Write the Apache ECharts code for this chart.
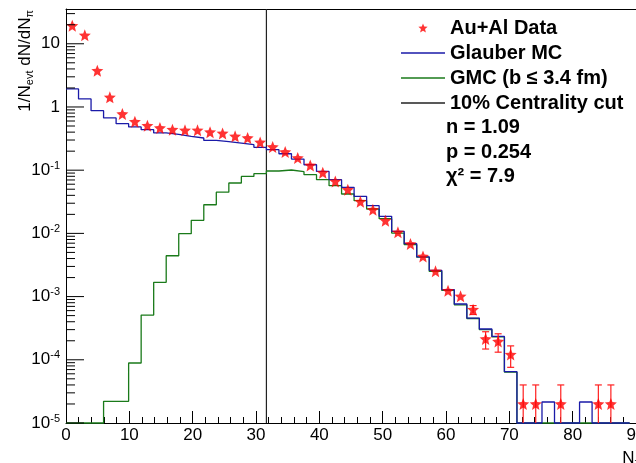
<!DOCTYPE html>
<html><head><meta charset="utf-8">
<script src="https://cdn.jsdelivr.net/npm/echarts@6/dist/echarts.min.js"></script>
<style>html,body{margin:0;padding:0;background:#fff}#c{width:636px;height:463px}</style>
</head><body><div id="c"></div>
<script>
// Histogram bin edges (45 bins)
const binEdges = [0, 1.978, 3.956, 5.933, 7.911, 9.889, 11.867, 13.844, 15.822, 17.800,
  19.778, 21.756, 23.733, 25.711, 27.689, 29.667, 31.644, 33.622, 35.600, 37.578,
  39.556, 41.533, 43.511, 45.489, 47.467, 49.444, 51.422, 53.400, 55.378, 57.356,
  59.333, 61.311, 63.289, 65.267, 67.244, 69.222, 71.200, 73.178, 75.156, 77.133,
  79.111, 81.089, 83.067, 85.044, 87.022, 89.000];

// Au+Al data (per bin, null = empty)
const dataY = [19.3, 13.6, 3.75, 1.42, 0.775, 0.585, 0.506, 0.465, 0.438, 0.427,
  0.427, 0.40, 0.382, 0.343, 0.323, 0.275, 0.233, 0.194, 0.156, 0.119,
  0.0913, 0.0665, 0.0491, 0.0318, 0.0237, 0.0159, 0.0104, 0.00679, 0.00432, 0.00251,
  0.00124, 0.00101, 0.000621, 0.000213, 0.000195, 0.000121, 2.0e-5, 2.0e-5, null, 2.0e-5,
  null, null, 2.0e-5, 2.0e-5, null];
const dataErr = [0.5, 0.4, 0.1, 0.04, 0.02, 0.015, 0.013, 0.012, 0.011, 0.011,
  0.011, 0.010, 0.010, 0.009, 0.009, 0.008, 0.007, 0.006, 0.005, 0.004,
  0.0035, 0.003, 0.0025, 0.002, 0.0017, 0.0013, 0.001, 0.0004, 0.0003, 0.0002,
  0.00012, 0.00011, 0.0001, 6.5e-5, 6.3e-5, 4.5e-5, 2.0e-5, 2.0e-5, null, 2.0e-5,
  null, null, 2.0e-5, 2.0e-5, null];

// Glauber MC histogram
const glauberMC = [1.93, 1.34, 0.873, 0.67, 0.545, 0.483, 0.437, 0.388, 0.368, 0.343,
  0.323, 0.296, 0.282, 0.269, 0.253, 0.230, 0.211, 0.182, 0.150, 0.122,
  0.0957, 0.0708, 0.0535, 0.0385, 0.0274, 0.0186, 0.0108, 0.00687, 0.00424, 0.0026,
  0.00129, 0.000764, 0.000458, 0.000307, 0.000234, 6.48e-5, 0, 0, 2.15e-5, 0,
  0, 2.15e-5, 0, 0, 0];

// GMC (b <= 3.4 fm) histogram
const gmcCentral = [0, 0, 0, 2.2e-5, 2.2e-5, 8.9e-5, 5.1e-4, 0.00168, 0.00443, 0.00989,
  0.0161, 0.0284, 0.0449, 0.0627, 0.0798, 0.0881, 0.0970, 0.1007, 0.0946, 0.0849,
  0.0708, 0.0569, 0.042, 0.0329, 0.0243, 0.0171, 0.0101, 0.00663, 0.0042, 0.0025,
  0.00125, 0.00074, 0.00045, 0.0003, 0.00023, 6.4e-5, 0, 0, 0, 0,
  0, 0, 0, 0, 0];

const centralityCut = 31.644;
const yMajorTicks = [1e-5, 1e-4, 1e-3, 1e-2, 1e-1, 1, 10];
const yMinorMultipliers = [2, 3, 4, 5, 6, 7, 8, 9];
const fitText = ['n = 1.09', 'p = 0.254', 'χ² = 7.9'];
const legendNames = ['Au+Al Data', 'Glauber MC', 'GMC (b ≤ 3.4 fm)', '10% Centrality cut'];

const yMin = 1e-5, yMax = 35.5;
const FONT = 'Liberation Sans, Arial, Helvetica, sans-serif';

// y-axis tick list: [value, tick length]
const yTickList = [];
yMajorTicks.forEach(p => {
  yTickList.push([p, 18]);
  yMinorMultipliers.forEach(m => { if (m * p <= yMax) yTickList.push([m * p, 9]); });
});

function stepData(vals) {
  const out = [];
  for (let k = 0; k < vals.length; k++) out.push([binEdges[k], vals[k] > 0 ? vals[k] : yMin]);
  const last = vals[vals.length - 1];
  out.push([binEdges[vals.length], last > 0 ? last : yMin]);
  return out;
}
const centers = binEdges.slice(0, -1).map((e, i) => (e + binEdges[i + 1]) / 2);
const pts = [], errs = [];
dataY.forEach((v, i) => { if (v != null) { pts.push([centers[i], v]); errs.push([centers[i], v, dataErr[i]]); } });

const star = 'path://M50,0 L63,33 L100,36 L72,60 L81,97 L50,77 L19,97 L28,60 L0,36 L37,33 Z';
const lineIcon = 'path://M0,0H44V1.3H0Z';

const chart = echarts.init(document.getElementById('c'));
chart.setOption({
  animation: false,
  backgroundColor: '#fff',
  grid: { left: 66, right: 0, top: 9, bottom: 40, outerBoundsMode: 'none', containLabel: false },
  legend: {
    data: [
      { name: legendNames[0] },
      { name: legendNames[1], icon: lineIcon },
      { name: legendNames[2], icon: lineIcon },
      { name: legendNames[3], icon: lineIcon }
    ],
    orient: 'vertical', left: 396, top: 13,
    itemWidth: 44, itemHeight: 9, itemGap: 5, selectedMode: false,
    textStyle: { fontFamily: FONT, fontWeight: 'bold', fontSize: 20, color: '#000' }
  },
  graphic: fitText.map((t, i) => ({
    type: 'text', x: 446, y: 127.5 + i * 24.5,
    style: { text: t, fontFamily: FONT, fontWeight: 'bold', fontSize: 20, fill: '#000', verticalAlign: 'middle' }
  })),
  xAxis: [{
    type: 'value', min: 0, max: 90, interval: 10,
    axisLine: { onZero: false, lineStyle: { color: '#000', width: 1 } },
    axisTick: { inside: true, length: 12, lineStyle: { color: '#000' } },
    minorTick: { show: true, splitNumber: 5, length: 6, lineStyle: { color: '#000' } },
    splitLine: { show: false },
    axisLabel: { margin: 4, color: '#000', fontFamily: FONT, fontSize: 17 },
    name: 'N{s|π}', nameLocation: 'end', nameGap: 6,
    nameTextStyle: { align: 'right', verticalAlign: 'top', padding: [26, 0, 0, 0], color: '#000', fontFamily: FONT, fontSize: 17,
      rich: { s: { fontSize: 11, fontFamily: FONT, padding: [8, 0, 0, 0] } } }
  }, {
    type: 'value', min: 0, max: 90, position: 'top',
    axisLine: { show: true, onZero: false, lineStyle: { color: '#000', width: 1 } },
    axisTick: { show: false }, axisLabel: { show: false }, splitLine: { show: false }
  }],
  yAxis: [{
    type: 'log', min: yMin, max: yMax, logBase: 10,
    axisLine: { show: true, onZero: false, lineStyle: { color: '#000', width: 1 } },
    axisTick: { show: false },
    splitLine: { show: false },
    axisLabel: {
      customValues: yMajorTicks, margin: 6, color: '#000', fontFamily: FONT, fontSize: 17,
      formatter: v => { const e = Math.round(Math.log10(v)); if (e === 0) return '1'; if (e === 1) return '10'; return '10{sup|' + e + '}'; },
      rich: { sup: { fontSize: 11, fontFamily: FONT, color: '#000', padding: [0, 0, 9, 0] } }
    },
    name: '1/N{s|evt} dN/dN{s|π}', nameLocation: 'end', nameRotate: 90, nameGap: -1,
    nameTextStyle: { align: 'right', verticalAlign: 'bottom', padding: [0, 0, 31, 0], color: '#000', fontFamily: FONT, fontSize: 17,
      rich: { s: { fontSize: 11, fontFamily: FONT, padding: [8, 0, 0, 0] } } }
  }],
  series: [
    { name: 'yTicks', type: 'custom', z: 10,
      data: yTickList.map(t => [5, t[0], t[1]]), encode: { x: 0, y: 1 },
      renderItem: (params, api) => {
        const v = api.value(1);
        const p5 = api.coord([5, v]);
        const p10 = api.coord([10, v]);
        const x0 = 2 * p5[0] - p10[0];   // position of x = 0 (axis start)
        const len = api.value(2);
        return { type: 'group', children: [
          { type: 'line', shape: { x1: x0, y1: p5[1], x2: x0 + len, y2: p5[1] }, style: { stroke: '#000', lineWidth: 1 } }
        ] };
      } },
    { name: 'Glauber MC', type: 'line', step: 'end', data: stepData(glauberMC), symbol: 'none', clip: false,
      lineStyle: { color: '#1a1aa8', width: 1.3 }, itemStyle: { color: '#1a1aa8' }, z: 3 },
    { name: 'GMC (b ≤ 3.4 fm)', type: 'line', step: 'end', data: stepData(gmcCentral), symbol: 'none', clip: false,
      lineStyle: { color: '#1a7a1a', width: 1.3 }, itemStyle: { color: '#1a7a1a' }, z: 2 },
    { name: '10% Centrality cut', type: 'line', data: [[centralityCut, yMin], [centralityCut, yMax]], symbol: 'none',
      lineStyle: { color: '#222', width: 1.2 }, itemStyle: { color: '#222' }, z: 1 },
    { name: 'errors', type: 'custom', silent: true, z: 4, data: errs, encode: { x: 0, y: 1 },
      renderItem: (params, api) => {
        const x = api.value(0), y = api.value(1), e = api.value(2);
        const c = api.coord([x, y]);
        const hi = api.coord([x, y + e]);
        const loV = y - e;
        const lo = api.coord([x, loV > yMin ? loV : yMin]);
        const half = 4, cap = 3.5;
        const st = { stroke: '#ff2020', lineWidth: 1.2 };
        const ch = [];
        if (c[1] - hi[1] > half || lo[1] - c[1] > half) {
          ch.push({ type: 'line', shape: { x1: hi[0], y1: hi[1], x2: lo[0], y2: lo[1] }, style: st });
          ch.push({ type: 'line', shape: { x1: hi[0] - cap, y1: hi[1], x2: hi[0] + cap, y2: hi[1] }, style: st });
          if (loV > yMin) ch.push({ type: 'line', shape: { x1: lo[0] - cap, y1: lo[1], x2: lo[0] + cap, y2: lo[1] }, style: st });
        }
        return { type: 'group', children: ch };
      } },
    { name: 'Au+Al Data', type: 'scatter', data: pts, symbol: star, symbolSize: 12,
      itemStyle: { color: '#ff0000' }, z: 5 }
  ]
});
</script></body></html>
